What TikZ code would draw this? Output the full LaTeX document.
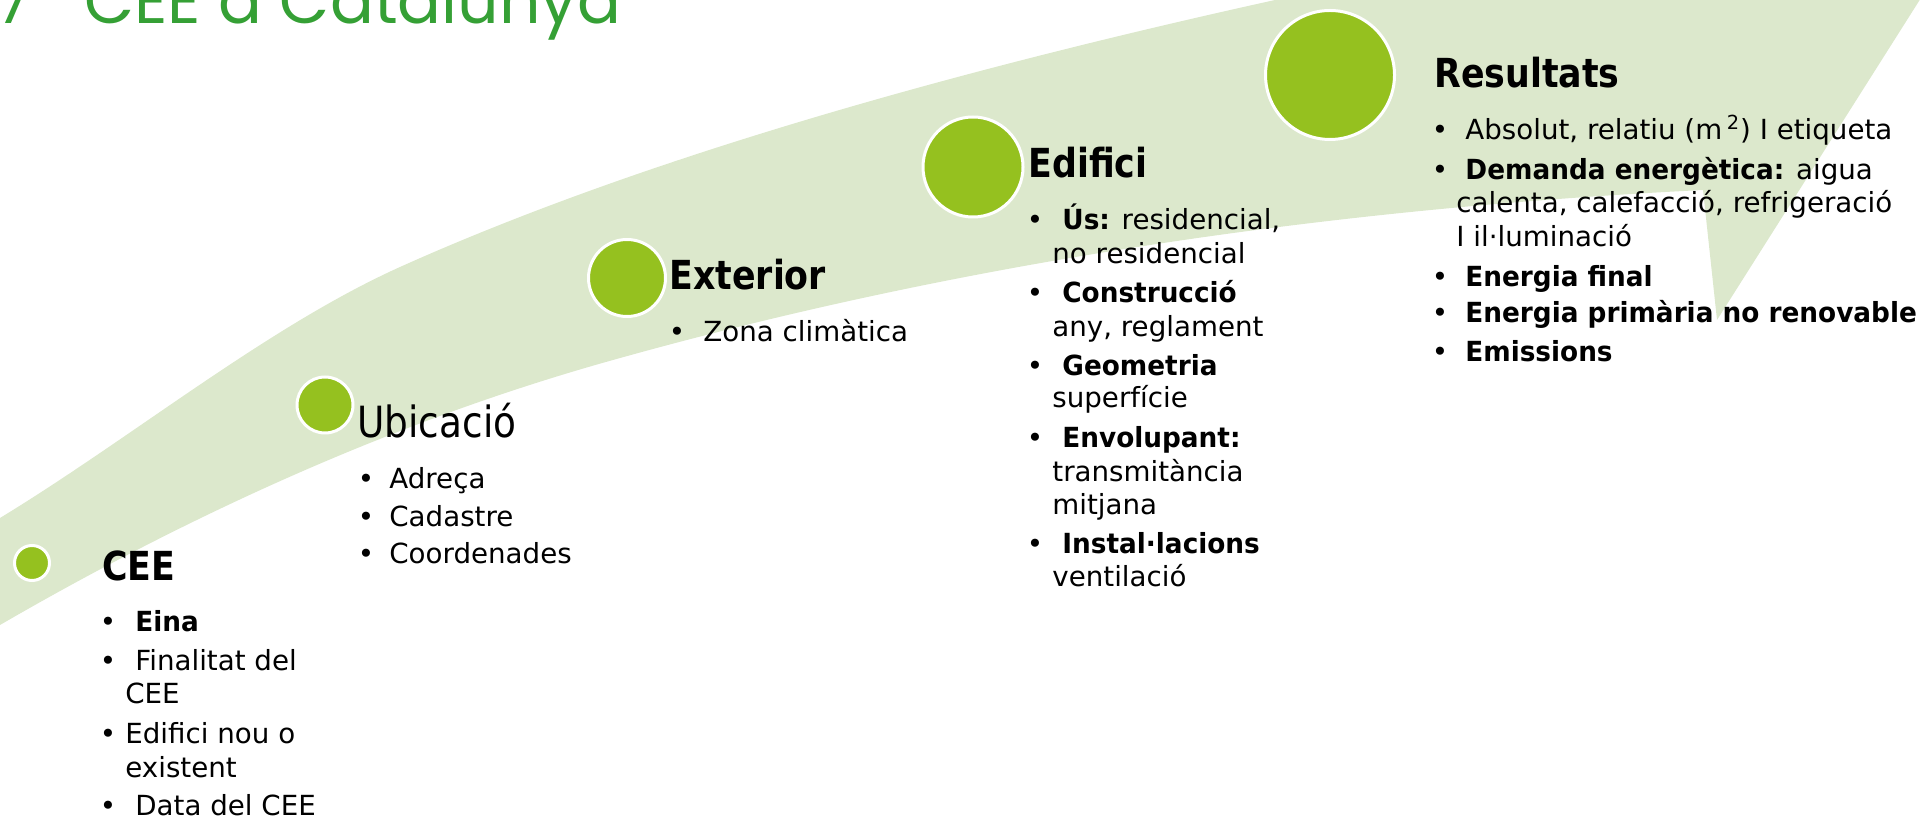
\documentclass[tikz,border=0pt]{standalone}
\usepackage{fontspec}
\setmainfont{DejaVu Sans}[BoldFeatures={FakeStretch=0.95}]
\newfontfamily\hdfont{DejaVu Sans}[FakeStretch=0.87]
\newfontfamily\ttlfont{Poppins}
\definecolor{bandgreen}{HTML}{DCE8CC}
\definecolor{dotgreen}{HTML}{95C11F}
\definecolor{titlegreen}{HTML}{35A035}
\tikzset{
  band/.style={fill=bandgreen},
  dot/.style={circle, fill=dotgreen, draw=white, line width=1.5pt, inner sep=0},
  txt/.style={anchor=base west, inner sep=0, font=\fontsize{13.85pt}{16pt}\selectfont},
  bul/.style={anchor=base, inner sep=0, font=\fontsize{13.85pt}{16pt}\selectfont},
  hd/.style={anchor=base west, inner sep=0, font=\hdfont\bfseries\fontsize{20pt}{24pt}\selectfont},
  hdreg/.style={anchor=base west, inner sep=0, font=\hdfont\fontsize{21.5pt}{26pt}\selectfont},
  ttl/.style={anchor=base west, inner sep=0, text=titlegreen, font=\ttlfont\fontsize{32.5pt}{36pt}\selectfont}
}
\begin{document}
\begin{tikzpicture}[x=0.5pt,y=-0.5pt]
\useasboundingbox (0,0) rectangle (1921,822);
\clip (0,0) rectangle (1921,822);
% curved arrow band
\fill[band] (-10,631) -- (0,625)
  .. controls (207,505) and (412,416) .. (613,360)
  .. controls (948,266) and (1311,209.6) .. (1703,190)
  -- (1717,320) -- (1926,-10) -- (1290,-10) -- (1275,0)
  .. controls (908,81) and (616,170) .. (400,267)
  .. controls (267,327) and (133,437) .. (0,518)
  -- (-10,524) -- cycle;
% title
\node[ttl] (seven) at (-4,24) {7};
\node[ttl] (title) at (84,24) {CEE a Catalunya};
% circles
\node[dot, minimum size=17.5pt] (c1) at (32,563) {};
\node[dot, minimum size=28pt] (c2) at (325,405) {};
\node[dot, minimum size=38.5pt] (c3) at (627,278) {};
\node[dot, minimum size=50pt] (c4) at (973,167) {};
\node[dot, minimum size=64.5pt] (c5) at (1330,75) {};
% CEE
\node[hd] (h1) at (102,581) {CEE};
\node[bul] (b11) at (108,632) {•};
\node[txt] (t11) at (135,632) {\textbf{Eina}};
\node[bul] (b12) at (108,671) {•};
\node[txt] (t12) at (135,671) {Finalitat del};
\node[txt] (t12b) at (125,704) {CEE};
\node[bul] (b13) at (108,743) {•};
\node[txt] (t13) at (125,743) {Edifici nou o};
\node[txt] (t13b) at (125,777) {existent};
\node[bul] (b14) at (108,815) {•};
\node[txt] (t14) at (135,815) {Data del CEE};
% Ubicacio
\node[hdreg] (h2) at (357,438) {Ubicació};
\node[bul] (b21) at (366,489) {•};
\node[txt] (t21) at (389,489) {Adreça};
\node[bul] (b22) at (366,527) {•};
\node[txt] (t22) at (389,527) {Cadastre};
\node[bul] (b23) at (366,564) {•};
\node[txt] (t23) at (389,564) {Coordenades};
% Exterior
\node[hd] (h3) at (669,290) {Exterior};
\node[bul] (b31) at (677,342) {•};
\node[txt] (t31) at (703,342) {Zona climàtica};
% Edifici
\node[hd] (h4) at (1028,178) {Edifici};
\node[bul] (b41) at (1035,230) {•};
\node[txt] (t41) at (1062,230) {\textbf{Ús:} residencial,};
\node[txt] (t41b) at (1052,264) {no residencial};
\node[bul] (b42) at (1035,303) {•};
\node[txt] (t42) at (1062,303) {\textbf{Construcció}};
\node[txt] (t42b) at (1052,337) {any, reglament};
\node[bul] (b43) at (1035,376) {•};
\node[txt] (t43) at (1062,376) {\textbf{Geometria}};
\node[txt] (t43b) at (1052,408) {superfície};
\node[bul] (b44) at (1035,448) {•};
\node[txt] (t44) at (1062,448) {\textbf{Envolupant:}};
\node[txt] (t44b) at (1052,482) {transmitància};
\node[txt] (t44c) at (1052,515) {mitjana};
\node[bul] (b45) at (1035,554) {•};
\node[txt] (t45) at (1062,554) {\textbf{Instal·lacions}};
\node[txt] (t45b) at (1052,587) {ventilació};
% Resultats
\node[hd] (h5) at (1434,88) {Resultats};
\node[bul] (b51) at (1440,140) {•};
\node[txt] (t51) at (1465,140) {Absolut, relatiu (m\,\textsuperscript{2}) I etiqueta};
\node[bul] (b52) at (1440,180) {•};
\node[txt] (t52) at (1465,180) {\textbf{Demanda energètica:} aigua};
\node[txt] (t52b) at (1456,213) {calenta, calefacció, refrigeració};
\node[txt] (t52c) at (1456,247) {I il·luminació};
\node[bul] (b53) at (1440,287) {•};
\node[txt] (t53) at (1465,287) {\textbf{Energia final}};
\node[bul] (b54) at (1440,323) {•};
\node[txt] (t54) at (1465,323) {\textbf{Energia primària no renovable}};
\node[bul] (b55) at (1440,362) {•};
\node[txt] (t55) at (1465,362) {\textbf{Emissions}};
\end{tikzpicture}
\end{document}
